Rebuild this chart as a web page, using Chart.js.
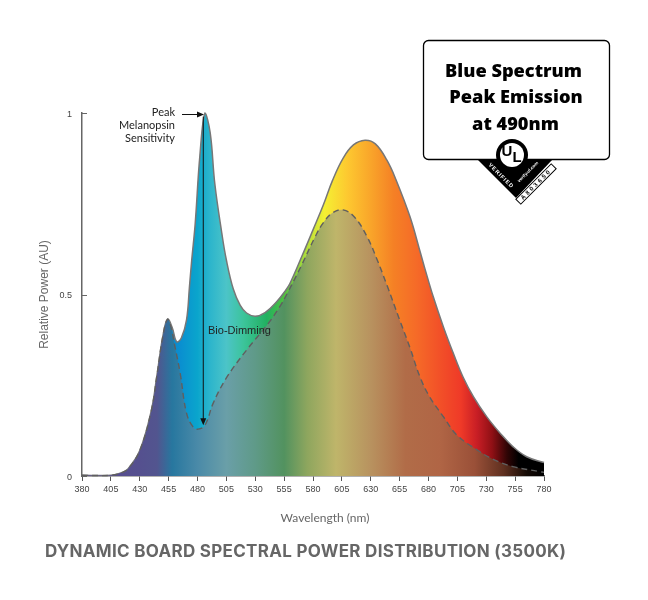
<!DOCTYPE html>
<html>
<head>
<meta charset="utf-8">
<style>
html, body { margin: 0; padding: 0; background: #fff; }
canvas { display: block; }
</style>
<script src="https://cdn.jsdelivr.net/npm/chart.js@4"></script>
</head>
<body>
<canvas id="myChart" width="648" height="600"></canvas>
<script>
// values
const upperWave = [380, 405, 415, 420, 430, 440, 445, 450, 454, 458, 462, 466, 470.5, 473, 475, 478, 482, 486.5, 491, 495, 501, 505, 511, 517, 522.5, 530, 538.5, 548.5, 556, 560, 571, 580, 589, 597, 606, 615, 625, 634, 644, 652, 664, 673, 677, 684, 693, 701.5, 710, 719, 730.5, 742, 753, 765, 780];
const upperPower = [0.002, 0.002, 0.01, 0.02, 0.07, 0.18, 0.28, 0.385, 0.432, 0.41, 0.37, 0.38, 0.43, 0.52, 0.595, 0.695, 0.88, 1, 0.945, 0.805, 0.67, 0.595, 0.515, 0.47, 0.449, 0.44, 0.45, 0.48, 0.51, 0.53, 0.61, 0.678, 0.747, 0.815, 0.875, 0.912, 0.925, 0.915, 0.87, 0.815, 0.714, 0.615, 0.57, 0.495, 0.41, 0.338, 0.272, 0.218, 0.163, 0.118, 0.081, 0.053, 0.037];
const lowerWave = [380, 405, 415, 420, 430, 440, 445, 450, 454, 457, 460.5, 465, 470.5, 476, 480.5, 486.5, 493.5, 505, 522.5, 540, 551, 558, 570, 582, 589, 597, 606, 616, 627, 635, 644, 655, 664, 672.5, 681, 693, 704.5, 722, 736, 753, 776.5, 780];
const lowerPower = [0.002, 0.002, 0.01, 0.02, 0.07, 0.18, 0.28, 0.385, 0.432, 0.41, 0.356, 0.283, 0.173, 0.136, 0.129, 0.14, 0.2, 0.27, 0.347, 0.415, 0.465, 0.505, 0.58, 0.66, 0.698, 0.725, 0.733, 0.713, 0.658, 0.60, 0.526, 0.43, 0.353, 0.274, 0.218, 0.163, 0.113, 0.072, 0.046, 0.026, 0.012, 0.01];
const yTicks = [0, 0.5, 1];
const calloutLines = ['Blue Spectrum', 'Peak Emission', 'at 490nm'];
const peakLines = ['Peak', 'Melanopsin', 'Sensitivity'];

const vividStops = [[380, '#5a4a90'], [440, '#4a5aa0'], [452, '#0f82c4'], [465, '#0a8fd0'], [480, '#0aa5cc'], [490, '#2ab4cc'], [505, '#4cc4c8'], [520, '#3cc49a'], [540, '#22b060'], [555, '#50c040'], [572, '#a8dc3c'], [590, '#f5f033'], [610, '#fdc830'], [630, '#f9a52a'], [650, '#f58025'], [670, '#f56a28'], [690, '#f25028'], [708, '#ef3a28'], [722, '#c81e25'], [735, '#901015'], [748, '#300505'], [758, '#000000'], [780, '#000000']];
const mutedStops = [[380, '#5a4a90'], [430, '#55508f'], [445, '#52558f'], [458, '#27779f'], [480, '#4a8aa8'], [505, '#6a9fa8'], [530, '#5f9a88'], [555, '#52925f'], [575, '#8ea65e'], [600, '#bfb56a'], [630, '#b8925f'], [660, '#b16c48'], [690, '#b06545'], [720, '#9a5038'], [745, '#5f3020'], [765, '#150a05'], [780, '#000000']];

function toPoints(xs, ys) {
    return xs.map(function (x, i) { return { x: x, y: ys[i] }; });
}

function spectrumFill(stops) {
    return function (context) {
        const chart = context.chart;
        if (!chart.chartArea) return '#888';
        const xs = chart.scales.x;
        const grad = chart.ctx.createLinearGradient(xs.left, 0, xs.right, 0);
        stops.forEach(function (s) {
            grad.addColorStop((s[0] - xs.min) / (xs.max - xs.min), s[1]);
        });
        return grad;
    };
}

function drawArrowHead(ctx, x, y, dir) {
    ctx.beginPath();
    if (dir === 'down') {
        ctx.moveTo(x, y); ctx.lineTo(x - 3, y - 7); ctx.lineTo(x + 3, y - 7);
    } else {
        ctx.moveTo(x, y); ctx.lineTo(x - 7, y - 3); ctx.lineTo(x - 7, y + 3);
    }
    ctx.closePath();
    ctx.fill();
}

function drawBadge(ctx) {
    // black triangle hanging below the box
    ctx.fillStyle = '#000';
    ctx.beginPath();
    ctx.moveTo(477, 159); ctx.lineTo(553, 159); ctx.lineTo(516, 198); ctx.closePath();
    ctx.fill();

    // UL ring
    ctx.beginPath();
    ctx.arc(512, 155, 16, 0, Math.PI * 2);
    ctx.fill();
    ctx.fillStyle = '#fff';
    ctx.beginPath();
    ctx.arc(512, 155, 12, 0, Math.PI * 2);
    ctx.fill();
    ctx.fillStyle = '#000';
    ctx.textAlign = 'center';
    ctx.textBaseline = 'middle';
    ctx.font = 'bold 15px "Liberation Sans"';
    ctx.fillText('U', 507, 152);
    ctx.fillText('L', 517, 158);

    // rotated lettering on the triangle
    ctx.save();
    ctx.translate(501, 176);
    ctx.rotate(Math.PI / 4);
    ctx.fillStyle = '#fff';
    ctx.font = 'bold 5.5px "Liberation Sans"';
    ctx.letterSpacing = '1px';
    ctx.fillText('VERIFIED', 0, 0);
    ctx.restore();

    ctx.save();
    ctx.translate(528, 172);
    ctx.rotate(-Math.PI / 4);
    ctx.fillStyle = '#fff';
    ctx.font = 'bold 4.5px "Liberation Sans"';
    ctx.fillText('verify.ul.com', 0, 0);
    ctx.restore();

    ctx.save();
    ctx.translate(536, 184);
    ctx.rotate(-Math.PI / 4);
    ctx.fillStyle = '#fff';
    ctx.strokeStyle = '#000';
    ctx.lineWidth = 1;
    ctx.fillRect(-25, -3.5, 50, 7);
    ctx.strokeRect(-25, -3.5, 50, 7);
    ctx.fillStyle = '#000';
    ctx.font = 'bold 6px "Liberation Sans"';
    ctx.letterSpacing = '2.4px';
    ctx.fillText('A803650', 0, 0.5);
    ctx.restore();
}

const annotations = {
    id: 'annotations',
    afterDraw: function (chart) {
        const ctx = chart.ctx;
        const xs = chart.scales.x;
        const ys = chart.scales.y;

        // y axis ticks point into the plot
        ctx.save();
        ctx.strokeStyle = '#666';
        ctx.lineWidth = 1;
        yTicks.forEach(function (v) {
            const py = Math.round(ys.getPixelForValue(v)) + 0.5;
            ctx.beginPath();
            ctx.moveTo(xs.left, py);
            ctx.lineTo(xs.left + 5, py);
            ctx.stroke();
        });

        // bio-dimming arrow
        const ax = xs.getPixelForValue(485);
        ctx.strokeStyle = '#111';
        ctx.fillStyle = '#111';
        ctx.lineWidth = 1;
        ctx.beginPath();
        ctx.moveTo(ax, ys.getPixelForValue(0.99));
        ctx.lineTo(ax, ys.getPixelForValue(0.15));
        ctx.stroke();
        drawArrowHead(ctx, ax, ys.getPixelForValue(0.14), 'down');

        // arrow to the peak
        ctx.beginPath();
        ctx.moveTo(182, 114.5);
        ctx.lineTo(198, 114.5);
        ctx.stroke();
        drawArrowHead(ctx, 204, 114.5, 'right');

        ctx.textBaseline = 'middle';
        ctx.font = '11px Lato';
        ctx.fillStyle = '#222';
        ctx.textAlign = 'right';
        peakLines.forEach(function (t, i) {
            ctx.fillText(t, 175, 112 + i * 13);
        });
        ctx.textAlign = 'left';
        ctx.font = '11px "Liberation Sans"';
        ctx.fillText('Bio-Dimming', 208, 331);

        // x axis caption sits right of the plot centre
        ctx.fillStyle = '#666';
        ctx.textAlign = 'center';
        ctx.font = '12px Lato';
        ctx.fillText('Wavelength (nm)', 325, 518);

        // callout box
        ctx.fillStyle = '#fff';
        ctx.strokeStyle = '#000';
        ctx.lineWidth = 1.3;
        ctx.beginPath();
        ctx.roundRect(423.5, 40.5, 186, 119, 5);
        ctx.fill();
        ctx.stroke();
        ctx.fillStyle = '#000';
        ctx.textAlign = 'center';
        ctx.font = '800 18.2px "Open Sans"';
        const lineCentres = [513.5, 516, 515.5];
        calloutLines.forEach(function (t, i) {
            ctx.fillText(t, lineCentres[i], 71.5 + i * 26.5);
        });
        drawBadge(ctx);

        // heading under the chart
        ctx.fillStyle = '#666';
        ctx.textAlign = 'left';
        ctx.font = '700 17px Inter';
        ctx.letterSpacing = '0.3px';
        ctx.fillText('DYNAMIC BOARD SPECTRAL POWER DISTRIBUTION (3500K)', 45, 552);
        ctx.restore();
    }
};

const ctx = document.getElementById('myChart');

const myChart = new Chart(ctx, {
    type: 'line',
    data: {
        datasets: [{
            label: 'Bio-dimmed',
            data: toPoints(lowerWave, lowerPower),
            order: 1,
            borderColor: '#5f5f5f',
            borderWidth: 1.4,
            borderDash: [6, 4],
            backgroundColor: spectrumFill(mutedStops),
            fill: 'origin',
            pointRadius: 0,
            tension: 0.4,
            clip: false
        }, {
            label: 'Full output',
            data: toPoints(upperWave, upperPower),
            order: 2,
            borderColor: '#777',
            borderWidth: 1.5,
            backgroundColor: spectrumFill(vividStops),
            fill: 'origin',
            pointRadius: 0,
            tension: 0.4,
            clip: false
        }]
    },
    options: {
        responsive: false,
        animation: false,
        layout: { padding: { top: 113, right: 104 } },
        plugins: {
            legend: { display: false },
            tooltip: { enabled: false }
        },
        scales: {
            x: {
                type: 'linear',
                min: 380,
                max: 780,
                afterFit: function (scale) { scale.height = 124; },
                grid: { drawOnChartArea: false, tickLength: 5, tickColor: '#555', tickWidth: 1 },
                border: { color: '#666', width: 1.5 },
                ticks: {
                    stepSize: 25,
                    maxRotation: 0,
                    autoSkip: false,
                    padding: 3,
                    color: '#444',
                    font: { family: '"Liberation Sans"', size: 9 }
                }
            },
            y: {
                min: 0,
                max: 1,
                afterFit: function (scale) { scale.width = 82; },
                afterBuildTicks: function (scale) {
                    scale.ticks = yTicks.map(function (v) { return { value: v }; });
                },
                grid: { drawOnChartArea: false, drawTicks: false },
                border: { color: '#666', width: 1.5 },
                ticks: {
                    padding: 10,
                    labelOffset: 1.5,
                    color: '#444',
                    font: { family: '"Liberation Sans"', size: 9 },
                    callback: function (v) { return String(v); }
                },
                title: {
                    display: true,
                    text: 'Relative Power (AU)',
                    color: '#666',
                    padding: { top: 37, bottom: 0 },
                    font: { family: '"Liberation Sans"', size: 12 }
                }
            }
        }
    },
    plugins: [annotations]
});
</script>
</body>
</html>
